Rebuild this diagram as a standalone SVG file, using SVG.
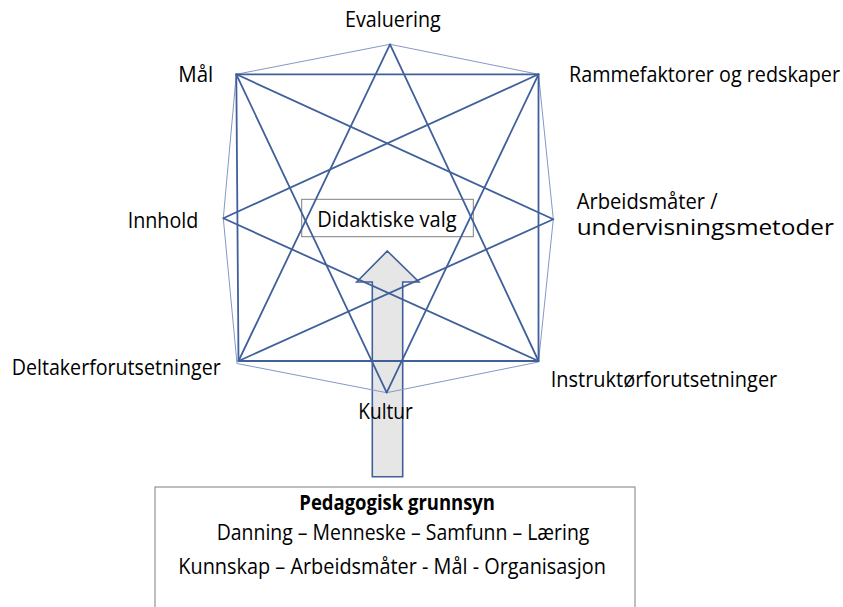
<svg xmlns="http://www.w3.org/2000/svg" width="843" height="607" viewBox="0 0 843 607">
<style>
text{font-family:"Open Sans","Liberation Sans",Arial,sans-serif;font-size:22px;fill:#000}
.thick{stroke:#40609B;stroke-width:1.8;fill:none;stroke-linecap:round;stroke-linejoin:round}
.thin{stroke:#8399C4;stroke-width:1;fill:none}
.box{fill:#fff;stroke:#7F7F7F;stroke-width:1}
</style>
<rect width="843" height="607" fill="#fff"/>
<g id="pedagogisk-grunnsyn">
<rect class="box" x="155" y="487" width="480" height="130"/>
<text x="299.3" y="509.5" font-weight="bold" font-size="21" textLength="195.7" lengthAdjust="spacingAndGlyphs">Pedagogisk grunnsyn</text>
<text x="216.7" y="540" textLength="372.7" lengthAdjust="spacingAndGlyphs">Danning – Menneske – Samfunn – Læring</text>
<text x="178.3" y="574" textLength="427.7" lengthAdjust="spacingAndGlyphs">Kunnskap – Arbeidsmåter - Mål - Organisasjon</text>
</g>
<g id="arrow">
<polygon points="387.3,251 419,282 402.7,282 402.7,476.7 372.3,476.7 372.3,282 356.7,282" fill="#E6E6E6" stroke="#40609B" stroke-width="1.6" stroke-linejoin="miter"/>
</g>
<g id="didaktiske-valg">
<rect class="box" x="301.7" y="199.3" width="171.6" height="37.4" style="fill:none"/>
<text x="317.3" y="226.7" textLength="139.4" lengthAdjust="spacingAndGlyphs">Didaktiske valg</text>
</g>
<g id="connectors">
<polygon class="thin" points="390,44.3 538.5,74.3 553.3,219.3 538.5,362 386.7,392.7 237,363.5 223.3,218.3 236.3,74.3"/>
<polygon class="thick" points="236.3,74.3 538.5,74.3 538.5,361 238.5,361"/>
<polyline class="thick" points="238.5,361 390,44.3 538.5,361"/>
<polyline class="thick" points="236.3,74.3 386.7,392.7 538.5,74.3"/>
<polyline class="thick" points="538.5,74.3 223.3,218.3 538.5,361"/>
<polyline class="thick" points="236.3,74.3 553.3,219.3 238.5,361"/>
</g>
<g id="evaluering"><text x="345" y="27.3" textLength="95.7" lengthAdjust="spacingAndGlyphs">Evaluering</text></g>
<g id="maal"><text x="178.3" y="81.7" textLength="35" lengthAdjust="spacingAndGlyphs">Mål</text></g>
<g id="rammefaktorer"><text x="569" y="81.7" font-size="20.5" textLength="271" lengthAdjust="spacingAndGlyphs">Rammefaktorer og redskaper</text></g>
<g id="innhold"><text x="127.7" y="228.3" textLength="70.6" lengthAdjust="spacingAndGlyphs">Innhold</text></g>
<g id="arbeidsmaater">
<text x="576.7" y="209" font-size="20" textLength="141" lengthAdjust="spacingAndGlyphs">Arbeidsmåter /</text>
<text x="576.7" y="235.3" font-size="20" textLength="257.3" lengthAdjust="spacingAndGlyphs">undervisningsmetoder</text>
</g>
<g id="deltakerforutsetninger"><text x="11.7" y="375" textLength="209" lengthAdjust="spacingAndGlyphs">Deltakerforutsetninger</text></g>
<g id="instruktorforutsetninger"><text x="550.7" y="386.7" textLength="226.6" lengthAdjust="spacingAndGlyphs">Instruktørforutsetninger</text></g>
<g id="kultur"><text x="358.3" y="419.3" textLength="54.4" lengthAdjust="spacingAndGlyphs">Kultur</text></g>
</svg>
